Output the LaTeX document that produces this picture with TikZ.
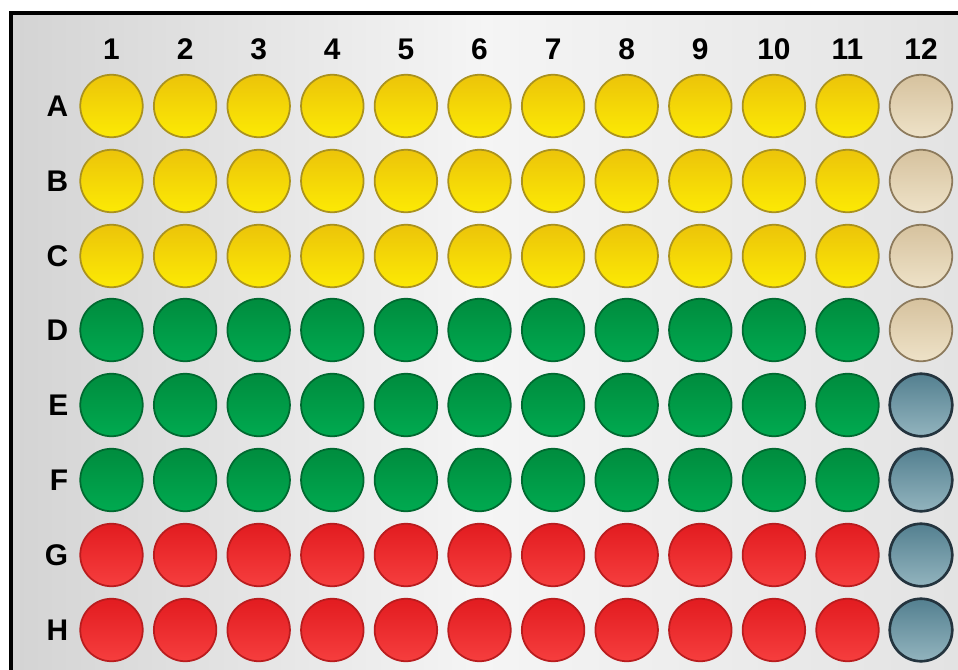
\documentclass[tikz,border=0pt]{standalone}
\usepackage{fontspec}
\setsansfont{Liberation Sans}
\usetikzlibrary{positioning}
\definecolor{yelTop}{RGB}{236,196,10}
\definecolor{yelBot}{RGB}{252,234,4}
\definecolor{yelRim}{RGB}{170,146,30}
\definecolor{grnTop}{RGB}{0,140,62}
\definecolor{grnBot}{RGB}{0,170,80}
\definecolor{grnRim}{RGB}{0,105,48}
\definecolor{redTop}{RGB}{226,28,32}
\definecolor{redBot}{RGB}{246,62,62}
\definecolor{redRim}{RGB}{185,28,30}
\definecolor{tanTop}{RGB}{214,194,158}
\definecolor{tanBot}{RGB}{238,226,200}
\definecolor{tanRim}{RGB}{140,122,92}
\definecolor{bluTop}{RGB}{84,128,144}
\definecolor{bluBot}{RGB}{146,180,190}
\definecolor{bluRim}{RGB}{36,52,62}

\begin{document}
\begin{tikzpicture}[
    x=0.02cm, y=-0.02cm,
    well/.style={circle, minimum size=1.25cm, inner sep=0pt, line width=1pt,
      draw=#1Rim, top color=#1Top, bottom color=#1Bot},
    lbl/.style={font=\sffamily\bfseries\fontsize{17}{17}\selectfont},
    frame/.style={line width=2pt, black},
]
\useasboundingbox (0, 0) rectangle (958, 670);
\shade[left color=black!17, right color=black!11, middle color=black!4]
  (11, 13) rectangle (958, 670);
\draw[frame] (11, 670) -- (11, 13) -- (958, 13);
\foreach \r/\y/\s/\t in {A/106/yel/tan, B/181/yel/tan, C/256/yel/tan,
    D/330/grn/tan, E/405/grn/blu, F/480/grn/blu, G/555/red/blu, H/630/red/blu} {
  \foreach \c in {1,...,11} {
    \node[well=\s] (\r\c) at ({111.5+(\c-1)*73.6}, \y) {};
  }
  \node[well=\t] (\r12) at (921, \y) {};
  \node[lbl, left=0.1cm of \r1] (row\r) {\r};
}
\foreach \r in {E,F,G,H} {
  \draw[bluRim, line width=1.5pt] (\r12) circle (0.625cm);
}
\foreach \c in {1,...,12} {
  \node[lbl, above=0.16cm of A\c] (col\c) {\c};
}
\end{tikzpicture}
\end{document}
